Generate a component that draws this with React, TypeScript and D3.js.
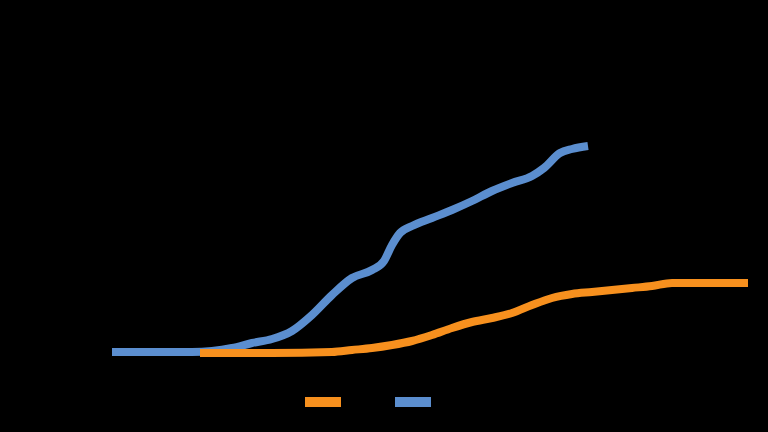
import React, { useRef, useEffect } from 'react';
import * as d3 from 'd3';

// days since first record
const blueDays = [0, 10, 20, 25, 30, 35, 40, 45, 50, 55, 60, 65, 68, 70, 72, 75, 80, 85, 90, 95, 100, 105, 108, 112, 115, 119];
const blueValues = [1, 1, 1, 2, 5, 10, 14, 22, 38, 58, 75, 83, 92, 108, 120, 127, 135, 143, 152, 162, 170, 177, 185, 200, 204, 207];

const orangeDays = [22, 40, 55, 60, 65, 70, 75, 80, 85, 90, 95, 100, 105, 110, 115, 120, 125, 130, 135, 140, 150, 159];
const orangeValues = [0, 0, 1, 3, 5, 8, 12, 18, 25, 31, 35, 40, 48, 55, 59, 61, 63, 65, 67, 70, 70, 70];

const seriesNames = ['Series 2', 'Series 1'];
const seriesColors = ['#f7901e', '#5b8ecf'];

export default function App() {
  const width = 768;
  const height = 432;
  const svgRef = useRef<SVGSVGElement>(null);

  useEffect(() => {
    if (!svgRef.current) return;
    const svg = d3.select(svgRef.current);
    svg.selectAll('*').remove();

    svg.append('rect').attr('width', width).attr('height', height).attr('fill', '#000');

    const x = d3.scaleLinear().domain([0, 160]).range([112, 752]);
    const y = d3.scaleLinear().domain([0, 250]).range([353, 103]);

    const line = d3.line<[number, number]>()
      .x(d => x(d[0]))
      .y(d => y(d[1]))
      .curve(d3.curveMonotoneX);

    const orange: [number, number][] = orangeDays.map((d, i) => [d, orangeValues[i]]);
    const blue: [number, number][] = blueDays.map((d, i) => [d, blueValues[i]]);

    svg.append('g')
      .attr('transform', 'translate(0,353)')
      .call(d3.axisBottom(x).ticks(8))
      .call(g => g.selectAll('line,path').attr('stroke', '#000'))
      .call(g => g.selectAll('text').attr('fill', '#000'));

    // blue under orange
    [[blue, seriesColors[1]], [orange, seriesColors[0]]].forEach(([s, c]: any) => {
      svg.append('path')
        .datum(s)
        .attr('fill', 'none')
        .attr('stroke', c)
        .attr('stroke-width', 8)
        .attr('stroke-linejoin', 'round')
        .attr('d', line);
    });

    const legend = svg.append('g').attr('transform', 'translate(305,397)');
    seriesNames.forEach((name, i) => {
      const g = legend.append('g').attr('transform', `translate(${i * 90},0)`);
      g.append('rect').attr('width', 36).attr('height', 10).attr('fill', seriesColors[i]);
      g.append('text').attr('x', 42).attr('y', 9).attr('fill', '#000')
        .style('font-family', 'DejaVu Sans').style('font-size', '11px').text(name);
    });
  }, []);

  return (
    <svg ref={svgRef} width={width} height={height}
      style={{ position: 'fixed', top: 0, left: 0, display: 'block' }} />
  );
}
